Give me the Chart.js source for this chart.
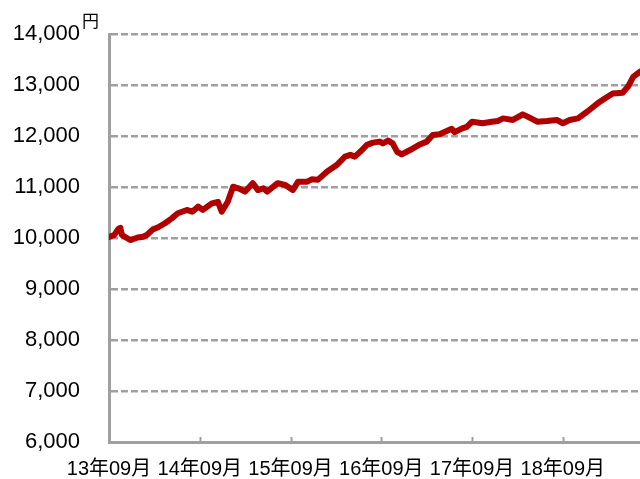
<!DOCTYPE html>
<html>
<head>
<meta charset="utf-8">
<script src="https://cdn.jsdelivr.net/npm/chart.js@4/dist/chart.umd.min.js"></script>
<style>
  body { margin: 0; background: #fff; }
  #wrap { width: 640px; height: 479px; }
</style>
</head>
<body>
<div id="wrap"><canvas id="myChart" width="640" height="479"></canvas></div>
<script>
// months since 2013-09 and the value (円) at that point
const months = [0.0, 0.7, 1.2, 1.5, 1.7, 2.8, 3.8, 4.5, 5.0, 5.8, 6.5, 7.4, 8.3, 9.1, 10.3, 11.0,
  11.8, 12.4, 13.6, 14.4, 14.9, 15.7, 16.4, 17.1, 18.0, 19.0, 19.7, 20.4, 20.9, 22.3, 23.3, 24.3,
  25.0, 26.2, 26.8, 27.6, 28.8, 30.1, 31.2, 31.9, 32.5, 33.2, 34.1, 34.9, 35.8, 36.2, 36.9, 37.5,
  38.1, 38.7, 39.8, 41.1, 42.0, 42.8, 43.7, 45.3, 45.7, 46.7, 47.3, 48.0, 49.4, 50.6, 51.4, 52.1,
  53.4, 54.7, 55.6, 56.6, 57.9, 59.2, 60.0, 60.9, 62.0, 63.2, 64.6, 65.6, 66.6, 67.9, 68.6, 69.3, 70.2];
const values = [10020, 10060, 10170, 10200, 10060, 9960, 10010, 10025, 10060, 10170, 10210, 10290, 10385, 10485, 10550, 10515,
  10615, 10550, 10680, 10710, 10515, 10710, 11005, 10975, 10910, 11075, 10940, 10975, 10910, 11075, 11040, 10940,
  11105, 11105, 11150, 11140, 11300, 11430, 11595, 11630, 11595, 11690, 11825, 11870, 11890, 11855, 11910, 11855,
  11690, 11640, 11725, 11835, 11890, 12020, 12035, 12140, 12075, 12150, 12180, 12280, 12250, 12280, 12295, 12345,
  12315, 12425, 12360, 12280, 12295, 12315, 12250, 12315, 12345, 12475, 12640, 12740, 12835, 12850, 12965, 13160, 13260];
const xTickMonths = [0, 12, 24, 36, 48, 60];
const xTickLabels = ['13年09月', '14年09月', '15年09月', '16年09月', '17年09月', '18年09月'];
const yTicks = [6000, 7000, 8000, 9000, 10000, 11000, 12000, 13000, 14000];
const unitLabel = '円';

const FONT = "Arial, 'Liberation Sans', 'Noto Sans CJK JP', sans-serif";
const GREY = '#a0a0a0';

const points = months.map((m, i) => ({x: m, y: values[i]}));

// unit label and the little upward tick marks on the x axis
const extras = {
  id: 'extras',
  afterDraw(chart) {
    const ctx = chart.ctx;
    const area = chart.chartArea;
    const xs = chart.scales.x;
    ctx.save();
    ctx.strokeStyle = GREY;
    ctx.lineWidth = 2;
    xTickMonths.forEach(m => {
      if (m === 0) return;
      const px = Math.round(xs.getPixelForValue(m)) + 0.5;
      ctx.beginPath();
      ctx.moveTo(px, area.bottom);
      ctx.lineTo(px, area.bottom - 5);
      ctx.stroke();
    });
    ctx.fillStyle = '#000';
    ctx.font = '17px ' + FONT;
    ctx.textAlign = 'left';
    ctx.textBaseline = 'alphabetic';
    ctx.fillText(unitLabel, area.left - 27, area.top - 7);
    ctx.restore();
  }
};

const ctx = document.getElementById('myChart').getContext('2d');
new Chart(ctx, {
  type: 'line',
  data: {
    datasets: [{
      data: points,
      borderColor: '#b00000',
      borderWidth: 6,
      pointRadius: 0,
      tension: 0,
      borderJoinStyle: 'round',
      borderCapStyle: 'round'
    }]
  },
  options: {
    responsive: false,
    animation: false,
    layout: { padding: { top: 34, right: 0, left: 0, bottom: 0 } },
    plugins: { legend: { display: false }, tooltip: { enabled: false } },
    scales: {
      x: {
        type: 'linear',
        min: 0,
        max: months[months.length - 1],
        afterBuildTicks: s => { s.ticks = xTickMonths.map(v => ({value: v})); },
        afterFit: s => { s.height = 37; },
        grid: { display: false },
        border: { display: true, color: GREY, width: 3 },
        ticks: {
          padding: 7,
          color: '#000',
          font: { family: FONT, size: 20 },
          maxRotation: 0,
          callback: v => xTickLabels[xTickMonths.indexOf(v)]
        }
      },
      y: {
        min: yTicks[0],
        max: yTicks[yTicks.length - 1],
        afterBuildTicks: s => { s.ticks = yTicks.map(v => ({value: v})); },
        afterFit: s => { s.width = 109; s.paddingTop = 0; s.paddingBottom = 0; },
        grid: { color: GREY, lineWidth: 2.5, drawTicks: false },
        border: { display: true, color: GREY, width: 3, dash: [7, 3] },
        ticks: {
          padding: 29,
          color: '#000',
          font: { family: FONT, size: 22 },
          callback: v => v.toLocaleString('en-US')
        }
      }
    }
  },
  plugins: [extras]
});
</script>
</body>
</html>
